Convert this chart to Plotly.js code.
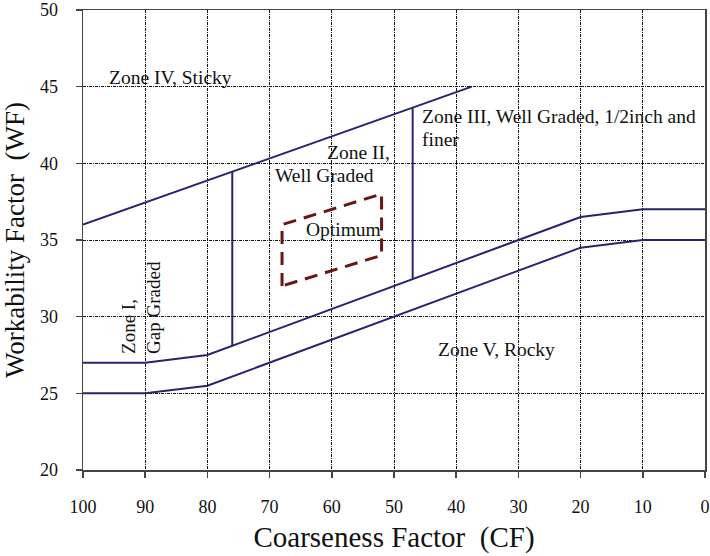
<!DOCTYPE html>
<html>
<head>
<meta charset="utf-8">
<script src="https://cdn.plot.ly/plotly-3.0.1.min.js"></script>
<style>html,body{margin:0;padding:0;background:#fff;}#chart{width:710px;height:556px;}</style>
</head>
<body>
<div id="chart"></div>
<script>
// Boundary lines (CF on x, WF on y)
var upperCF = [100, 37.5];
var upperWF = [36, 45];
var middleCF = [100, 90, 80, 20, 10, 0];
var middleWF = [27, 27, 27.5, 36.5, 37, 37];
var lowerCF = [100, 90, 80, 20, 10, 0];
var lowerWF = [25, 25, 25.5, 34.5, 35, 35];
var divider1CF = [76, 76];
var divider1WF = [28.1, 39.5];
var divider2CF = [47, 47];
var divider2WF = [32.5, 43.6];
var optimumCF = [68, 68, 52, 52, 68];
var optimumWF = [32, 36, 38, 34, 32];

// Zone labels
var labelTexts = ["Zone IV, Sticky", "Zone II,", "Well Graded", "Optimum",
  "Zone III, Well Graded, 1/2inch and", "finer", "Zone V, Rocky"];
var labelCF = [96.1, 50.3, 69.5, 64.4, 45.9, 45.9, 43.2];
var labelWF = [45.6, 40.7, 39.2, 35.7, 43.04, 41.57, 27.83];
var labelAnchor = ["left", "right", "left", "left", "left", "left", "left"];
var zone1Text = "Zone I,<br>Gap Graded";
var zone1CF = 90.6;
var zone1WF = 30.6;

var xTicks = [100, 90, 80, 70, 60, 50, 40, 30, 20, 10, 0];
var yTicks = [20, 25, 30, 35, 40, 45, 50];

var navy = '#25246f';
var serif = 'Liberation Serif, Times New Roman, serif';

function line(x, y, color, width, dash) {
  return {x: x, y: y, type: 'scatter', mode: 'lines', hoverinfo: 'skip',
    line: {color: color, width: width, dash: dash || 'solid'}, showlegend: false};
}

var traces = [
  line(upperCF, upperWF, navy, 2),
  line(middleCF, middleWF, navy, 2),
  line(lowerCF, lowerWF, navy, 2),
  line(divider1CF, divider1WF, navy, 2),
  line(divider2CF, divider2WF, navy, 2),
  line(optimumCF, optimumWF, '#6a1616', 3, '13px,8px')
];

var annotations = labelTexts.map(function (t, i) {
  return {x: labelCF[i], y: labelWF[i], xref: 'x', yref: 'y', text: t,
    showarrow: false, xanchor: labelAnchor[i], yanchor: 'middle',
    font: {family: serif, size: 19.5, color: '#111'}};
});
annotations.push({x: zone1CF, y: zone1WF, xref: 'x', yref: 'y', text: zone1Text,
  showarrow: false, textangle: -90, align: 'left', xanchor: 'center', yanchor: 'middle',
  font: {family: serif, size: 19, color: '#111'}});

var gridStyle = {gridcolor: '#111', griddash: '3px,1px,1px,1px', gridwidth: 1};

var layout = {
  width: 710, height: 556,
  margin: {l: 83, r: 5, t: 10, b: 86},
  paper_bgcolor: '#fff', plot_bgcolor: '#fff',
  font: {family: serif, color: '#111'},
  showlegend: false,
  xaxis: Object.assign({
    range: [100, 0], tickvals: xTicks, ticktext: xTicks.map(String),
    showgrid: true, zeroline: false,
    showline: true, linecolor: '#444', linewidth: 1.5, mirror: true,
    ticks: 'outside', ticklen: 6, tickcolor: '#444', tickwidth: 1.5,
    ticklabelstandoff: 14,
    tickfont: {family: serif, size: 18, color: '#111'},
    title: {text: 'Coarseness Factor\u00A0\u00A0(CF)', font: {family: serif, size: 29, color: '#111'}, standoff: 10}
  }, gridStyle),
  yaxis: Object.assign({
    range: [20, 50], tickvals: yTicks, ticktext: yTicks.map(String),
    showgrid: true, zeroline: false,
    showline: true, linecolor: '#444', linewidth: 1.5, mirror: true,
    ticks: 'outside', ticklen: 6, tickcolor: '#444', tickwidth: 1.5,
    ticklabelstandoff: 14,
    tickfont: {family: serif, size: 18, color: '#111'},
    title: {text: 'Workability Factor\u00A0\u00A0(WF)', font: {family: serif, size: 27, color: '#111'}, standoff: 8}
  }, gridStyle),
  annotations: annotations
};

Plotly.newPlot('chart', traces, layout, {displayModeBar: false, staticPlot: true});
</script>
</body>
</html>
